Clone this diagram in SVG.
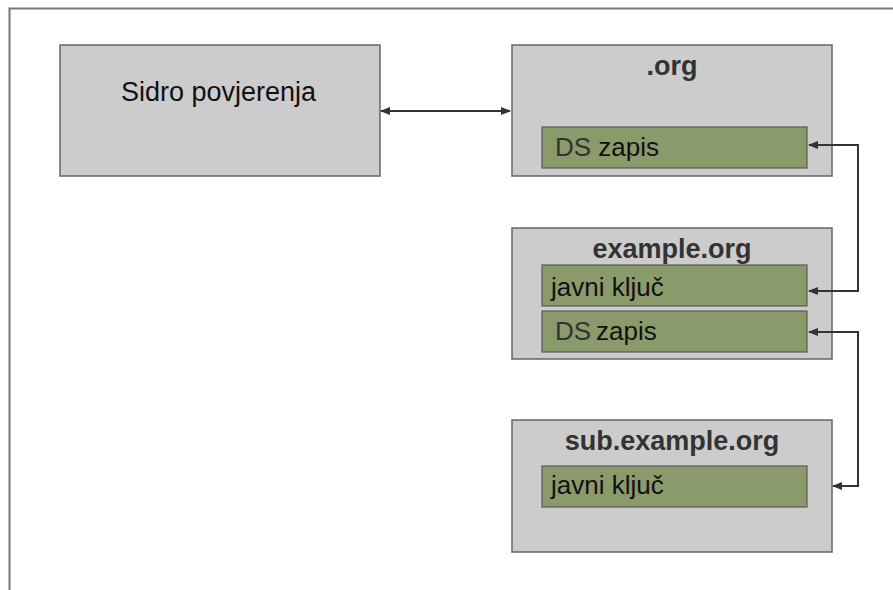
<svg xmlns="http://www.w3.org/2000/svg" width="893" height="590" viewBox="0 0 893 590">
<style>
.box{fill:#cccccc;stroke:#666666;stroke-width:1.5}
.rec{fill:#8b9a6a;stroke:#5a5a5a;stroke-width:1.2}
.ttl{font-family:"Liberation Sans",Arial,sans-serif;font-weight:bold;font-size:27px;fill:#333333;text-anchor:middle}
.lbl{font-family:"Liberation Sans",Arial,sans-serif;font-size:26px;fill:#111111}
.ds{fill:#333333}
.con{fill:none;stroke:#333333;stroke-width:2}
</style>
<defs>
<marker id="ah" viewBox="0 0 10 10" refX="9" refY="5" markerWidth="5" markerHeight="5" orient="auto-start-reverse" markerUnits="strokeWidth">
<path d="M0,1 L10,5 L0,9 Z" fill="#333333"/>
</marker>
</defs>
<rect width="893" height="590" fill="#ffffff"/>
<path d="M9.5,590 V8.5 H893" fill="none" stroke="#777777" stroke-width="2"/>

<g id="sidro">
<rect class="box" x="60" y="45" width="320" height="131"/>
<text x="218.5" y="100.5" font-family="Liberation Sans, Arial, sans-serif" font-size="27" fill="#111111" text-anchor="middle">Sidro povjerenja</text>
</g>

<g id="org">
<rect class="box" x="512" y="45" width="320" height="131"/>
<text class="ttl" x="672" y="75">.org</text>
<g id="org-ds">
<rect class="rec" x="542" y="127" width="265" height="41"/>
<text class="lbl" x="555" y="156"><tspan class="ds">DS</tspan> zapis</text>
</g>
</g>

<g id="example-org">
<rect class="box" x="512" y="228" width="320" height="131"/>
<text class="ttl" x="672" y="258">example.org</text>
<g id="example-key">
<rect class="rec" x="542" y="265" width="265" height="41"/>
<text class="lbl" x="551" y="296">javni ključ</text>
</g>
<g id="example-ds">
<rect class="rec" x="542" y="311" width="265" height="41"/>
<text class="lbl" x="555" y="340"><tspan class="ds">DS</tspan><tspan x="596">zapis</tspan></text>
</g>
</g>

<g id="sub-example-org">
<rect class="box" x="512" y="420" width="320" height="132"/>
<text class="ttl" x="672" y="450">sub.example.org</text>
<g id="sub-key">
<rect class="rec" x="542" y="466" width="265" height="41"/>
<text class="lbl" x="551" y="494">javni ključ</text>
</g>
</g>

<g id="connectors">
<path class="con" d="M381,111 H510" marker-start="url(#ah)" marker-end="url(#ah)"/>
<path class="con" d="M809,291 H858 V145 H809" marker-start="url(#ah)" marker-end="url(#ah)"/>
<path class="con" d="M809,332 H858 V486 H833" marker-start="url(#ah)" marker-end="url(#ah)"/>
</g>
</svg>
